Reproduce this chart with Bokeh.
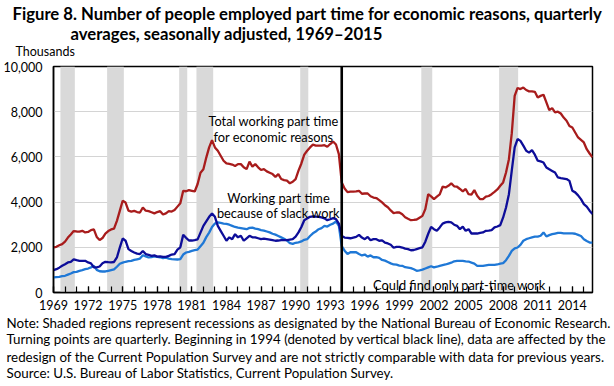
from bokeh.plotting import figure
from bokeh.models import Range1d, Label, BoxAnnotation, Span, FixedTicker, NumeralTickFormatter, Title
from bokeh.embed import file_html
from bokeh.resources import INLINE

years = list(range(1969, 2016))
# quarterly averages, thousands, 1969Q1 .. 2015Q4
total = [
    2000, 2020, 2090, 2140,  2250, 2430, 2570, 2720,  2700, 2690, 2730, 2660,
    2680, 2760, 2790, 2460,  2320, 2410, 2610, 2720,  2790, 2830, 3170, 3610,
    4060, 3980, 3620, 3580,  3610, 3560, 3540, 3760,  3620, 3600, 3550, 3500,
    3560, 3600, 3450, 3500,  3600, 3580, 3650, 3800,  3950, 4500, 4480, 4530,
    4500, 4470, 4800, 5300,  5450, 5970, 6420, 6740,  6420, 6270, 6050, 5830,
    5710, 5690, 5660, 5600,  5680, 5680, 5540, 5460,  5790, 5570, 5680, 5540,
    5420, 5460, 5360, 5300,  5240, 5120, 5240, 5020,  4970, 4950, 4830, 4900,
    5020, 5390, 5710, 6100,  6270, 6420, 6540, 6500,  6500, 6500, 6520, 6450,
    6570, 6680, 6550, 6120,  4870, 4600, 4440, 4460,  4460, 4470, 4500, 4370,
    4380, 4380, 4260, 4200,  4180, 4090, 3990, 3860,  3770, 3630, 3510, 3540,
    3540, 3460, 3330, 3260,  3200, 3210, 3230, 3310,  3390, 3690, 4350, 4250,
    4130, 4240, 4340, 4680,  4650, 4720, 4830, 4700,  4680, 4580, 4470, 4580,
    4350, 4330, 4530, 4280,  4130, 4130, 4240, 4270,  4350, 4450, 4560, 4720,
    4870, 5310, 5900, 7050,  8700, 9050, 9000, 9070,  8960, 8900, 8900, 8880,
    8630, 8700, 8750, 8410,  8070, 8160, 7970, 8000,  7920, 7740, 7600, 7370,
    7300, 7080, 6860, 6750,  6640, 6340, 6150, 5980,
]
slack = [
    990, 1030, 1100, 1180,  1250, 1330, 1360, 1470,  1430, 1400, 1400, 1400,
    1330, 1290, 1110, 1110,  1150, 1290, 1360, 1340,  1330, 1350, 1550, 1990,
    2390, 2290, 1920, 1840,  1770, 1720, 1700, 1840,  1700, 1670, 1620, 1640,
    1590, 1600, 1580, 1580,  1620, 1680, 1700, 1900,  2000, 2550, 2420, 2300,
    2300, 2320, 2350, 2650,  2950, 3150, 3350, 3500,  3350, 2950, 2730, 2510,
    2290, 2440, 2360, 2580,  2440, 2510, 2290, 2400,  2510, 2440, 2440, 2400,
    2360, 2380, 2360, 2340,  2320, 2290, 2300, 2320,  2320, 2320, 2340, 2360,
    2470, 2660, 2900, 3200,  3280, 3350, 3370, 3360,  3350, 3320, 3280, 3200,
    3240, 3290, 3250, 3050,  2500, 2430, 2420, 2400,  2430, 2460, 2550, 2430,
    2360, 2460, 2310, 2360,  2360, 2290, 2310, 2210,  2170, 2110, 1980, 2020,
    2020, 1990, 1940, 1920,  1870, 1880, 1920, 1960,  2000, 2250, 2600, 2900,
    2800, 2730, 2880, 3050,  3100, 3130, 3100, 3000,  2950, 2800, 2910, 2730,
    2800, 2610, 2610, 2610,  2640, 2660, 2730, 2740,  2760, 2880, 2920, 2980,
    3320, 3760, 4350, 5400,  6420, 6790, 6710, 6500,  6270, 6190, 6300, 6100,
    5830, 5800, 5750, 5530,  5450, 5380, 5310, 5090,  5060, 5040, 5020, 4940,
    4500, 4430, 4300, 4130,  3910, 3800, 3620, 3470,
]
only_pt = [
    665, 680, 690, 720,  740, 790, 840, 900,  915, 960, 990, 1030,
    1060, 1110, 1180, 1000,  940, 930, 930, 960,  990, 1020, 1140, 1270,
    1320, 1360, 1390, 1400,  1440, 1470, 1500, 1650,  1600, 1550, 1570, 1600,
    1580, 1560, 1520, 1540,  1500, 1480, 1470, 1460,  1480, 1680, 1770, 1800,
    1840, 1870, 1900, 2050,  2200, 2450, 2650, 2900,  3050, 3100, 3080, 3050,
    3040, 3000, 2950, 2900,  2870, 2850, 2830, 2800,  2860, 2870, 2830, 2800,
    2760, 2740, 2700, 2660,  2600, 2560, 2500, 2440,  2380, 2300, 2180, 2150,
    2200, 2220, 2260, 2330,  2360, 2500, 2620, 2700,  2800, 2850, 2950, 2920,
    3000, 3050, 3150, 2950,  2050, 1850, 1700, 1780,  1780, 1780, 1700, 1640,
    1680, 1590, 1640, 1560,  1560, 1530, 1440, 1410,  1350, 1290, 1240, 1230,
    1190, 1180, 1120, 1100,  1080, 1030, 960, 980,  1010, 1060, 1110, 1160,
    1110, 1140, 1180, 1210,  1240, 1280, 1320, 1380,  1400, 1400, 1400, 1380,
    1370, 1320, 1280, 1180,  1180, 1180, 1200, 1220,  1220, 1220, 1240, 1280,
    1300, 1430, 1620, 1840,  1950, 1990, 2110, 2290,  2360, 2400, 2440, 2470,
    2470, 2510, 2660, 2480,  2540, 2580, 2610, 2640,  2640, 2620, 2620, 2620,
    2620, 2600, 2550, 2500,  2360, 2280, 2210, 2210,
]
quarters = [0.0, 0.25, 0.5, 0.75]
xq = [y + q for y in years for q in quarters]

rec_start = [1969.6, 1973.65, 1979.9, 1981.4, 1990.4, 2000.9, 2007.65]
rec_end = [1970.85, 1975.1, 1980.6, 1982.85, 1991.1, 2001.85, 2009.3]
redesign_year = 1994.0

major_ticks = list(range(1969, 2015, 3))
minor_ticks = years
y_ticks = [0, 2000, 4000, 6000, 8000, 10000]

title_lines = ["Figure 8. Number of people employed part time for economic reasons, quarterly",
               "averages, seasonally adjusted, 1969\u20132015"]
notes = [
    "Note: Shaded regions represent recessions as designated by the National Bureau of Economic Research.",
    "Turning points are quarterly. Beginning in 1994 (denoted by vertical black line), data are affected by the",
    "redesign of the Current Population Survey and are not strictly comparable with data for previous years.",
    "Source: U.S. Bureau of Labor Statistics, Current Population Survey.",
]

FONT = "Lato"
RED = "#a81c1c"
NAVY = "#0d0d99"
LBLUE = "#1f78d6"

# frame spans x 51..592, y 66..292 of the picture
p = figure(width=614, height=386, output_backend="svg", toolbar_location=None,
           x_range=Range1d(1969, 2015.75), y_range=Range1d(0, 10000),
           min_border_left=51, min_border_right=22, min_border_top=66,
           min_border_bottom=94)

p.outline_line_color = "black"
p.outline_line_width = 1.5
p.background_fill_color = "white"
p.border_fill_color = "white"

p.xgrid.grid_line_color = None
p.ygrid.grid_line_color = "#d4d4d4"
p.ygrid.grid_line_width = 1
p.ygrid.ticker = FixedTicker(ticks=[2000, 4000, 6000, 8000])

p.xaxis.ticker = FixedTicker(ticks=major_ticks, minor_ticks=minor_ticks)
p.xaxis.major_tick_in = 6
p.xaxis.major_tick_out = 0
p.xaxis.minor_tick_in = 6
p.xaxis.minor_tick_out = 0
p.xaxis.major_tick_line_color = "black"
p.xaxis.minor_tick_line_color = "black"
p.xaxis.major_tick_line_width = 1.2
p.xaxis.minor_tick_line_width = 1.2
p.xaxis.axis_line_color = "black"
p.xaxis.axis_line_width = 1.5
p.xaxis.major_label_text_font = FONT
p.xaxis.major_label_text_font_size = "12.5px"
p.xaxis.major_label_standoff = 7
p.xaxis.major_label_text_color = "black"

p.yaxis.ticker = FixedTicker(ticks=y_ticks)
p.yaxis.formatter = NumeralTickFormatter(format="0,0")
p.yaxis.major_tick_in = 0
p.yaxis.major_tick_out = 0
p.yaxis.minor_tick_line_color = None
p.yaxis.axis_line_color = "black"
p.yaxis.axis_line_width = 1.5
p.yaxis.major_label_text_font = FONT
p.yaxis.major_label_text_font_size = "12.5px"
p.yaxis.major_label_standoff = 11
p.yaxis.major_label_text_color = "black"

for s, e in zip(rec_start, rec_end):
    p.add_layout(BoxAnnotation(left=s, right=e, fill_color="#d9d9d9", fill_alpha=1.0,
                               line_color=None, level="underlay"))

p.line(xq, only_pt, line_color=LBLUE, line_width=2.3)
p.line(xq, slack, line_color=NAVY, line_width=2.3)
p.line(xq, total, line_color=RED, line_width=2.3)

p.add_layout(Span(location=redesign_year, dimension="height", line_color="black", line_width=2.6))

# ---- titles above / notes below the frame (first added = nearest the frame) ----
def side_title(text, side, offset, standoff, valign, size, bold=False):
    p.add_layout(Title(text=text, align="left", offset=offset, standoff=standoff,
                       vertical_align=valign, text_font=FONT, text_font_size=size,
                       text_font_style="bold" if bold else "normal", text_color="black"), side)

side_title("Thousands", "above", -38, 9.6, "top", "12.5px")
side_title(title_lines[1], "above", 17, -9.4, "bottom", "16.7px", True)
side_title(title_lines[0], "above", -41, 4.2, "bottom", "16.7px", True)

note_standoffs = [-0.3, -1.7, -0.3, -1.7]
for t, so in zip(notes, note_standoffs):
    side_title(t, "below", -47, so, "bottom", "13.35px")

# ---- in-plot labels ----
def lab(text, wx, wy, size="12.8px"):
    # wx, wy: baseline position in the picture; frame spans x 51..592, bottom at y 292
    p.add_layout(Label(x=wx - 51, y=292 - wy, x_units="screen", y_units="screen", text=text,
                       text_font=FONT, text_font_size=size, text_align="center",
                       text_baseline="alphabetic", text_color="black"))

lab("Total working part time", 271, 120)
lab("for economic reasons", 271, 136)
lab("Working part time", 276, 197)
lab("because of slack work", 276, 212)
lab("Could find only part-time work", 457, 284)

open("out.html", "w").write(file_html(p, INLINE))
